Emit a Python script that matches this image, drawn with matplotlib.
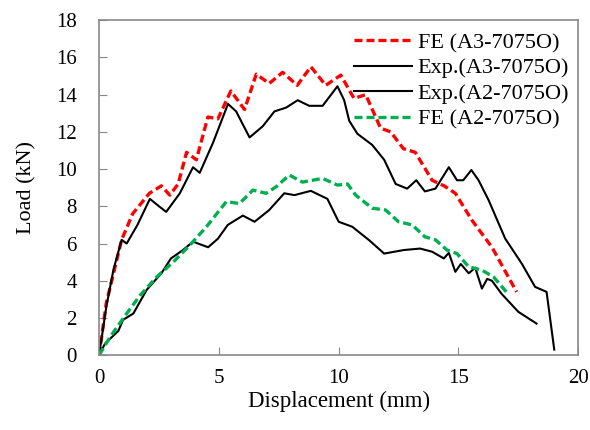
import matplotlib.pyplot as plt

plt.rcParams['font.family'] = ['Liberation Serif', 'DejaVu Serif']

# FE (A3-7075O)
fe_a3_x = [0, 0.3, 0.94, 1.4, 2.1, 2.6, 2.95, 3.3, 3.65, 4.06, 4.54, 4.96, 5.5, 6.07,
           6.56, 7.1, 7.66, 8.27, 8.84, 9.46, 10.09, 10.64, 11.13, 11.75, 12.17, 12.7,
           13.2, 13.9, 14.4, 14.87, 15.56, 16.4, 17.0, 17.43]
fe_a3_y = [0, 2.8, 6.2, 7.6, 8.7, 9.1, 8.6, 9.2, 10.9, 10.5, 12.8, 12.7, 14.2, 13.2,
           15.1, 14.6, 15.2, 14.5, 15.5, 14.5, 15.05, 13.8, 14.0, 12.2, 12.0, 11.1,
           10.9, 9.4, 9.1, 8.7, 7.26, 5.8, 4.4, 3.4]

# Exp.(A3-7075O)
exp_a3_x = [0, 0.3, 0.6, 0.94, 1.15, 1.6, 2.12, 2.5, 2.8, 3.37, 3.92, 4.2, 4.75, 5.38,
            5.72, 6.28, 6.83, 7.32, 7.8, 8.29, 8.77, 9.33, 9.95, 10.23, 10.44, 10.78,
            11.4, 11.9, 12.38, 12.86, 13.24, 13.6, 14.04, 14.6, 14.94, 15.2, 15.54,
            15.84, 16.26, 16.95, 17.64, 18.2, 18.68, 19.0]
exp_a3_y = [0, 2.6, 4.6, 6.2, 6.0, 7.0, 8.4, 8.0, 7.7, 8.7, 10.1, 9.8, 11.4, 13.5,
            13.1, 11.7, 12.3, 13.1, 13.3, 13.7, 13.4, 13.4, 14.45, 13.7, 12.6, 11.9,
            11.3, 10.5, 9.2, 8.95, 9.4, 8.8, 8.95, 10.1, 9.4, 9.4, 9.95,
            9.4, 8.33, 6.27, 4.93, 3.67, 3.4, 0.3]

# Exp.(A2-7075O)
exp_a2_x = [0, 0.25, 0.8, 1.0, 1.43, 1.98, 2.6, 3.0, 3.5, 3.92, 4.55, 4.96, 5.37, 6.0,
            6.49, 7.1, 7.73, 8.15, 8.84, 9.53, 10.0, 10.57, 11.27, 11.9, 12.72, 13.4,
            13.9, 14.39, 14.6, 14.87, 15.1, 15.43, 15.7, 15.98, 16.2, 16.4, 16.8,
            17.5, 18.26]
exp_a2_y = [0, 0.63, 1.3, 1.9, 2.24, 3.5, 4.4, 5.2, 5.65, 6.1, 5.8, 6.26, 7.0, 7.5,
            7.17, 7.8, 8.7, 8.6, 8.83, 8.4, 7.17, 6.9, 6.18, 5.46, 5.65, 5.73,
            5.56, 5.2, 5.5, 4.48, 4.9, 4.4, 4.7, 3.58, 4.1, 4.0, 3.3,
            2.33, 1.7]

# FE (A2-7075O)
fe_a2_x = [0, 0.46, 1.0, 1.7, 2.4, 3.09, 3.78, 4.48, 5.31, 5.86, 6.42, 6.97, 7.39,
           7.94, 8.49, 9.33, 9.95, 10.37, 10.71, 11.4, 11.96, 12.5, 13.07, 13.6,
           14.04, 14.52, 14.94, 15.43, 15.98, 16.47, 17.0]
fe_a2_y = [0, 0.98, 1.97, 3.2, 4.2, 5.0, 5.9, 6.9, 8.25, 8.15, 8.87, 8.7, 9.05,
           9.68, 9.3, 9.5, 9.14, 9.2, 8.6, 7.9, 7.8, 7.17, 7.0, 6.36,
           6.2, 5.65, 5.46, 4.75, 4.57, 4.2, 3.4]

x_ticks = [0, 5, 10, 15, 20]
y_ticks = [0, 2, 4, 6, 8, 10, 12, 14, 16, 18]

fig = plt.figure(figsize=(5.9, 4.3), dpi=100)
ax = fig.add_axes([0.168, 0.174, 0.812, 0.779])

dash = (2.4, 1.2)
ax.plot(fe_a3_x, fe_a3_y, color='#FF0000', lw=2.4, dashes=dash, label='FE (A3-7075O)')
ax.plot(exp_a3_x, exp_a3_y, color='black', lw=1.5, label='Exp.(A3-7075O)')
ax.plot(exp_a2_x, exp_a2_y, color='black', lw=1.5, label='Exp.(A2-7075O)')
ax.plot(fe_a2_x, fe_a2_y, color='#00B050', lw=2.4, dashes=dash, label='FE (A2-7075O)')

ax.set_xlim(0, 20)
ax.set_ylim(0, 18)
ax.set_xticks(x_ticks)
ax.set_yticks(y_ticks)
ax.tick_params(direction='in', length=6, color='#888888', labelsize=15)
ax.tick_params(axis='y', pad=16)
ax.tick_params(axis='x', pad=10)
for s in ax.spines.values():
    s.set_color('#888888')
    s.set_linewidth(1.2)

ax.set_xlabel('Displacement (mm)', fontsize=16.5, labelpad=2)
ax.set_ylabel('Load (kN)', fontsize=16, labelpad=14)

ax.legend(loc='upper right', frameon=False, fontsize=16, handlelength=2.6,
          handletextpad=0.25, labelspacing=0.22, borderaxespad=0.0,
          bbox_to_anchor=(1.0, 0.99))

fig.savefig('out.png', dpi=100)
